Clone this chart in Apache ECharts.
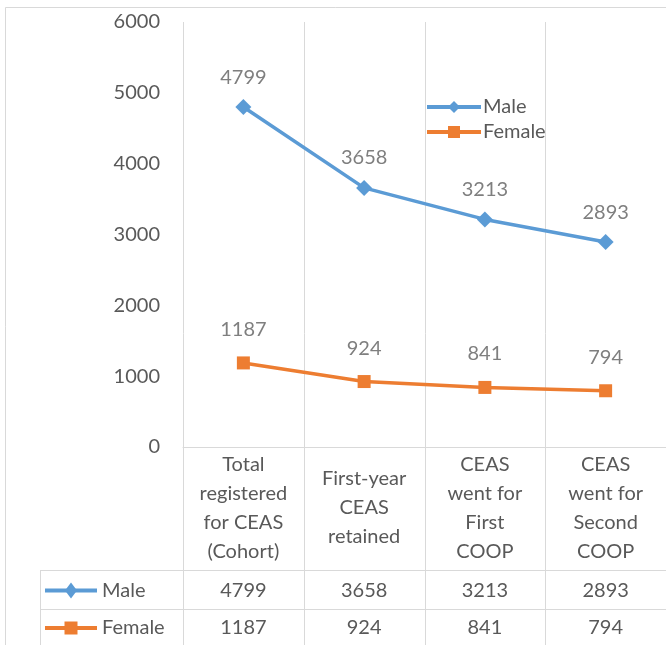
<!DOCTYPE html>
<html><head><meta charset="utf-8">
<script src="https://cdn.jsdelivr.net/npm/echarts@6/dist/echarts.min.js"></script>
<style>html,body{margin:0;padding:0;background:#fff}#c{width:666px;height:645px}</style>
</head><body><div id="c"></div>
<script>
var categories = ["Total\nregistered\nfor CEAS\n(Cohort)", "First-year\nCEAS\nretained", "CEAS\nwent for\nFirst\nCOOP", "CEAS\nwent for\nSecond\nCOOP"];
var maleValues = [4799, 3658, 3213, 2893];
var femaleValues = [1187, 924, 841, 794];
var seriesNames = ["Male", "Female"];
var yTicks = {min: 0, max: 6000, interval: 1000};

var FONT = 'Lato';
var BLUE = '#5B9BD5', ORANGE = '#ED7D31', GRID = '#D9D9D9';
var chart = echarts.init(document.getElementById('c'), null, {renderer: 'canvas'});
var gridTop = 22, gridLeft = 183, gridW = 486, gridH = 425;
var option = {
  animation: false,
  backgroundColor: '#fff',
  textStyle: {fontFamily: FONT},
  grid: {left: gridLeft, top: gridTop, width: gridW, height: gridH, containLabel: false},
  legend: {
    orient: 'vertical', left: 420, top: 92, itemWidth: 54, itemHeight: 15, itemGap: 5,
    lineStyle: {width: 4},
    textStyle: {fontFamily: FONT, fontSize: 20, color: '#595959', padding: [0, 0, 0, -3]},
    data: seriesNames.map(function (n) { return {name: n, lineStyle: {width: 4}}; })
  },
  xAxis: {
    type: 'category', data: categories, boundaryGap: true,
    axisLine: {show: true, lineStyle: {color: GRID, width: 1}},
    axisTick: {show: false},
    splitLine: {show: false},
    axisLabel: {fontFamily: FONT, fontSize: 20, color: '#595959', lineHeight: 29, margin: 61, verticalAlign: 'middle', align: 'center', interval: 0}
  },
  yAxis: {
    type: 'value', min: yTicks.min, max: yTicks.max, interval: yTicks.interval,
    axisLine: {show: false}, axisTick: {show: false}, splitLine: {show: false},
    axisLabel: {fontFamily: FONT, fontSize: 20, color: '#595959', margin: 23, formatter: function (v) { return String(v); }}
  },
  series: [
    {name: seriesNames[0], type: 'line', data: maleValues, symbol: 'diamond', symbolSize: 16,
     lineStyle: {color: BLUE, width: 3.5}, itemStyle: {color: BLUE},
     label: {show: true, position: 'top', distance: 12, fontFamily: FONT, fontSize: 20, color: '#7F7F7F'}},
    {name: seriesNames[1], type: 'line', data: femaleValues, symbol: 'rect', symbolSize: 13,
     lineStyle: {color: ORANGE, width: 3.5}, itemStyle: {color: ORANGE},
     label: {show: true, position: 'top', distance: 17, fontFamily: FONT, fontSize: 20, color: '#7F7F7F'}}
  ]
};
chart.setOption(option);

// build frame + data table from axis scale
var half = (chart.convertToPixel({xAxisIndex: 0}, 1) - chart.convertToPixel({xAxisIndex: 0}, 0)) / 2;
var centers = categories.map(function (c, i) { return chart.convertToPixel({xAxisIndex: 0}, i); });
var yTop = chart.convertToPixel({yAxisIndex: 0}, yTicks.max);
var row1 = 570, row2 = 609, bottom = 645, tableLeft = 40;
var els = [];
function line(x1, y1, x2, y2) {
  els.push({type: 'line', shape: {x1: x1, y1: y1, x2: x2, y2: y2}, style: {stroke: GRID, lineWidth: 1}, silent: true, z: 0});
}
// outer frame
line(5.5, 7.5, 666, 7.5);
line(5.5, 7.5, 5.5, 645);
// vertical category boundaries
for (var i = 0; i <= categories.length; i++) {
  var bx = Math.round(centers[0] - half + i * 2 * half) + 0.5;
  line(bx, yTop, bx, bottom);
}
line(tableLeft + 0.5, row1, tableLeft + 0.5, bottom);
line(tableLeft, row1 + 0.5, 666, row1 + 0.5);
line(tableLeft, row2 + 0.5, 666, row2 + 0.5);
var rows = [
  {name: seriesNames[0], vals: maleValues, color: BLUE, sym: 'diamond', y: (row1 + row2) / 2 + 1},
  {name: seriesNames[1], vals: femaleValues, color: ORANGE, sym: 'rect', y: (row2 + bottom) / 2 + 1}
];
rows.forEach(function (r) {
  els.push({type: 'line', shape: {x1: 45, y1: r.y, x2: 97, y2: r.y}, style: {stroke: r.color, lineWidth: 4}, z: 5});
  if (r.sym === 'diamond') {
    els.push({type: 'polygon', shape: {points: [[71, r.y - 8], [77, r.y], [71, r.y + 8], [65, r.y]]}, style: {fill: r.color}, z: 6});
  } else {
    els.push({type: 'rect', shape: {x: 64.5, y: r.y - 6.5, width: 13, height: 13}, style: {fill: r.color}, z: 6});
  }
  els.push({type: 'text', x: 102, y: r.y, style: {text: r.name, font: '20px ' + FONT, fill: '#595959', textVerticalAlign: 'middle', textAlign: 'left'}, z: 6});
  r.vals.forEach(function (v, i) {
    els.push({type: 'text', x: centers[i], y: r.y, style: {text: String(v), font: '20px ' + FONT, fill: '#595959', textVerticalAlign: 'middle', textAlign: 'center'}, z: 6});
  });
});
chart.setOption({graphic: {elements: els}});
</script></body></html>
